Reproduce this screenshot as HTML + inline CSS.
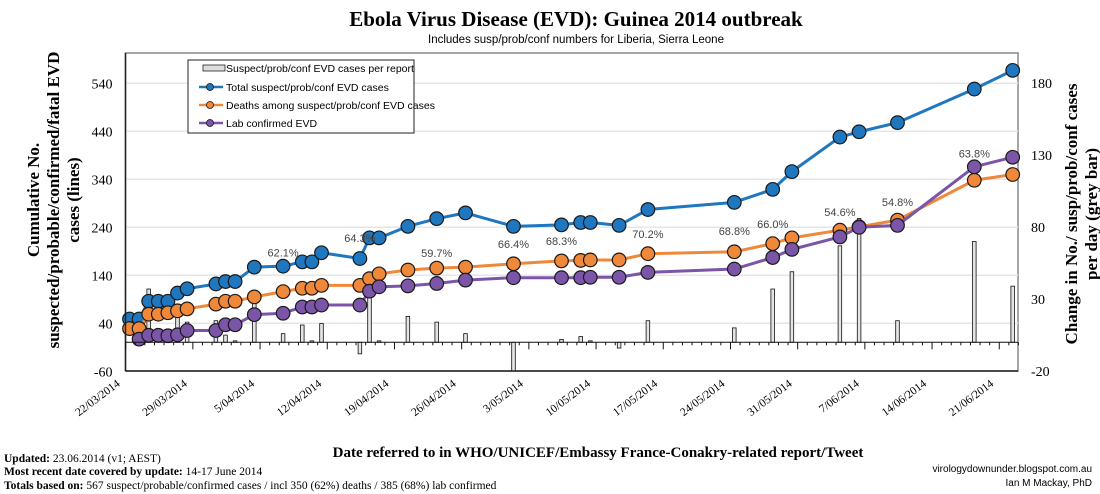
<!DOCTYPE html>
<html><head><meta charset="utf-8">
<style>
html,body{margin:0;padding:0;background:#fff;}
svg{display:block;font-family:"Liberation Serif",serif;}
.sans{font-family:"Liberation Sans",sans-serif;}
</style></head>
<body>
<svg id="chart" width="1100" height="494" viewBox="0 0 1100 494" xmlns="http://www.w3.org/2000/svg">
  <text x="576" y="26" text-anchor="middle" font-size="21" font-weight="bold">Ebola Virus Disease (EVD): Guinea 2014 outbreak</text>
  <text class="sans" x="576" y="43" text-anchor="middle" font-size="11.5">Includes susp/prob/conf numbers for Liberia, Sierra Leone</text>
  <g id="grid"></g>
  <g id="bars"></g>
  <g id="lines"></g>
  <g id="axes"></g>
  <text font-size="17" font-weight="bold" text-anchor="middle" transform="translate(39,200) rotate(-90)"><tspan x="0" dy="0">Cumulative No.</tspan><tspan x="0" dy="20">suspected/probable/confirmed/fatal EVD</tspan><tspan x="0" dy="20">cases (lines)</tspan></text>
  <text font-size="17" font-weight="bold" text-anchor="middle" transform="translate(1077,214) rotate(-90)"><tspan x="0" dy="0">Change in No./ susp/prob/conf cases</tspan><tspan x="0" dy="20">per day (grey bar)</tspan></text>
  <text x="598" y="457" text-anchor="middle" font-size="15" font-weight="bold">Date referred to in WHO/UNICEF/Embassy France-Conakry-related report/Tweet</text>
  <g>
    <rect x="188" y="60" width="226" height="73" fill="#fff" stroke="#222" stroke-width="1"/>
    <rect x="203" y="65" width="22" height="6" fill="#ddd" stroke="#222" stroke-width="0.8"/>
    <text class="sans" x="226" y="72" font-size="10.5">Suspect/prob/conf EVD cases per report</text>
    <line x1="199" y1="87" x2="223" y2="87" stroke="#1f77b4" stroke-width="2.5"/><circle cx="210" cy="87" r="3.5" fill="#1f77b4" stroke="#111" stroke-width="0.8"/>
    <text class="sans" x="226" y="91" font-size="10.5">Total suspect/prob/conf EVD cases</text>
    <line x1="199" y1="105" x2="223" y2="105" stroke="#f0883a" stroke-width="2.5"/><circle cx="210" cy="105" r="3.5" fill="#f0883a" stroke="#111" stroke-width="0.8"/>
    <text class="sans" x="226" y="109" font-size="10.5">Deaths among suspect/prob/conf EVD cases</text>
    <line x1="199" y1="123" x2="223" y2="123" stroke="#7b56a8" stroke-width="2.5"/><circle cx="210" cy="123" r="3.5" fill="#7b56a8" stroke="#111" stroke-width="0.8"/>
    <text class="sans" x="226" y="127" font-size="10.5">Lab confirmed EVD</text>
  </g>
  <g font-size="11.5">
    <text x="4" y="462"><tspan font-weight="bold">Updated:</tspan> 23.06.2014 (v1; AEST)</text>
    <text x="4" y="475"><tspan font-weight="bold">Most recent date covered by update:</tspan> 14-17 June 2014</text>
    <text x="4" y="489"><tspan font-weight="bold">Totals based on:</tspan> 567 suspect/probable/confirmed cases / incl 350 (62%) deaths / 385 (68%) lab confirmed</text>
  </g>
  <g class="sans" font-size="10" text-anchor="end">
    <text x="1092" y="472">virologydownunder.blogspot.com.au</text>
    <text x="1092" y="486">Ian M Mackay, PhD</text>
  </g>
</svg>
<script>
const dateLabels = ["22/03/2014","29/03/2014","5/04/2014","12/04/2014","19/04/2014","26/04/2014","3/05/2014","10/05/2014","17/05/2014","24/05/2014","31/05/2014","7/06/2014","14/06/2014","21/06/2014"];
const leftTicks = [-60,40,140,240,340,440,540];
const rightTicks = [-20,30,80,130,180];
const totalDays = [0,1,2,3,4,5,6,9,10,11,13,16,18,19,20,24,25,26,29,32,35,40,45,47,48,51,54,63,67,69,74,76,80,88,92];
const totalCases = [49,49,86,86,86,103,112,122,127,127,157,159,168,168,187,175,218,218,242,258,270,242,245,250,250,244,277,292,319,356,428,439,458,528,567];
const deathDays = [0,1,2,3,4,5,6,9,10,11,13,16,18,19,20,24,25,26,29,32,35,40,45,47,48,51,54,63,67,69,74,76,80,88,92];
const deaths = [29,29,59,59,62,66,70,80,86,86,95,106,113,113,119,119,133,143,151,155,157,164,170,171,172,172,185,189,206,218,234,241,255,338,350];
const labDays = [1,2,3,4,5,6,9,10,11,13,16,18,19,20,24,25,26,29,32,35,40,45,47,48,51,54,63,67,69,74,76,80,88,92];
const labConfirmed = [7,15,15,14,16,25,25,37,37,58,61,74,74,78,78,107,116,118,123,130,135,135,135,136,136,146,153,177,194,220,240,244,366,386];
const barDays = [2,5,6,9,10,11,13,16,18,19,20,24,25,26,29,32,35,40,45,47,48,51,54,63,67,69,74,76,80,88,92];
const barValues = [37,18,14,15,5,1,27,6,12,1,13,-8,40,1,18,14,6,-20,2,4,1,-4,15,10,37,49,67,86,15,70,39];
const pctDays = [16,24,32,40,45,54,63,67,74,80,88];
const pctLevels = [188,218,186,205,211,226,232,247,272,293,394];
const pctTexts = ["62.1%","64.3%","59.7%","66.4%","68.3%","70.2%","68.8%","66.0%","54.6%","54.8%","63.8%"];

const NS="http://www.w3.org/2000/svg";
const X0=129.5, DX=9.6, PL=125.5, PR=1018, PT=53, PB=371;
const xs=d=>X0+DX*d;
const yl=v=>342.5-v*0.48;
const yr=v=>342.3-v*1.44;
function mk(parent,tag,attrs){const e=document.createElementNS(NS,tag);for(const k in attrs)e.setAttribute(k,attrs[k]);parent.appendChild(e);return e;}
const grid=document.getElementById('grid'),bars=document.getElementById('bars'),lines=document.getElementById('lines'),axes=document.getElementById('axes');

mk(grid,'rect',{x:PL,y:PT,width:PR-PL,height:PB-PT,fill:'none',stroke:'#888','stroke-width':1.5});
leftTicks.forEach(v=>{
  if(v>-60){const g=mk(grid,'line',{x1:PL,x2:PR,y1:yl(v),y2:yl(v),stroke:'#e6e6e6','stroke-width':1.5});
  
  }
  const t=mk(axes,'text',{x:PL-13,y:yl(v)+5,'text-anchor':'end','font-size':14});
  t.textContent=v;
  
  
});
rightTicks.forEach(v=>{
  const t=mk(axes,'text',{x:PR+13,y:yr(v)+5,'text-anchor':'start','font-size':14});
  t.textContent=v;
  
  
});
mk(axes,'line',{x1:PL,x2:PL,y1:PT,y2:PB,stroke:'#222','stroke-width':1.5});
mk(axes,'line',{x1:PL,x2:PR,y1:PB,y2:PB,stroke:'#222','stroke-width':1.5});

barValues.forEach((v,i)=>{
  const x=xs(barDays[i]);const y0=yr(0),y1=yr(v);
  const r=mk(bars,'rect',{x:x-1.8,y:Math.min(y0,y1),width:3.6,height:Math.max(1,Math.abs(y1-y0)),fill:'#e4e4e4',stroke:'#111','stroke-width':0.8});
  
  
});
mk(axes,'line',{x1:PL,x2:PR,y1:yr(0),y2:yr(0),stroke:'#111','stroke-width':1});
for(let d=0;d<=93;d++){
  const x=xs(d-0.4);const major=d%7===0;
  mk(axes,'line',{x1:x,x2:x,y1:yr(0),y2:yr(0)+(major?7:3),stroke:'#111','stroke-width':1});
}
dateLabels.forEach((s,i)=>{
  const x=xs(i*7-0.4);
  const t=mk(axes,'text',{'text-anchor':'end','font-size':11.5,transform:`translate(${x-5},${PB+14}) rotate(-37)`});
  t.textContent=s;
  
  
});

function series(days,vals,color,name){
  const pts=days.map((d,i)=>xs(d)+','+yl(vals[i])).join(' ');
  const pl=mk(lines,'polyline',{points:pts,fill:'none',stroke:color,'stroke-width':3,'stroke-linejoin':'round'});
  
  
  days.forEach((d,i)=>{
    const c=mk(lines,'circle',{cx:xs(d),cy:yl(vals[i]),r:6.8,fill:color,stroke:'#1a1a1a','stroke-width':1.2});
    
    
  });
}
series(totalDays,totalCases,'#1f77c0','total-cases');
series(deathDays,deaths,'#f0883a','deaths');
series(labDays,labConfirmed,'#7b56a8','lab-confirmed');

pctTexts.forEach((s,i)=>{
  const t=mk(lines,'text',{x:xs(pctDays[i]),y:yl(pctLevels[i])+4,'text-anchor':'middle','font-size':11,fill:'#444',class:'sans'});
  t.textContent=s;
  
  
});
</script>
</body></html>
